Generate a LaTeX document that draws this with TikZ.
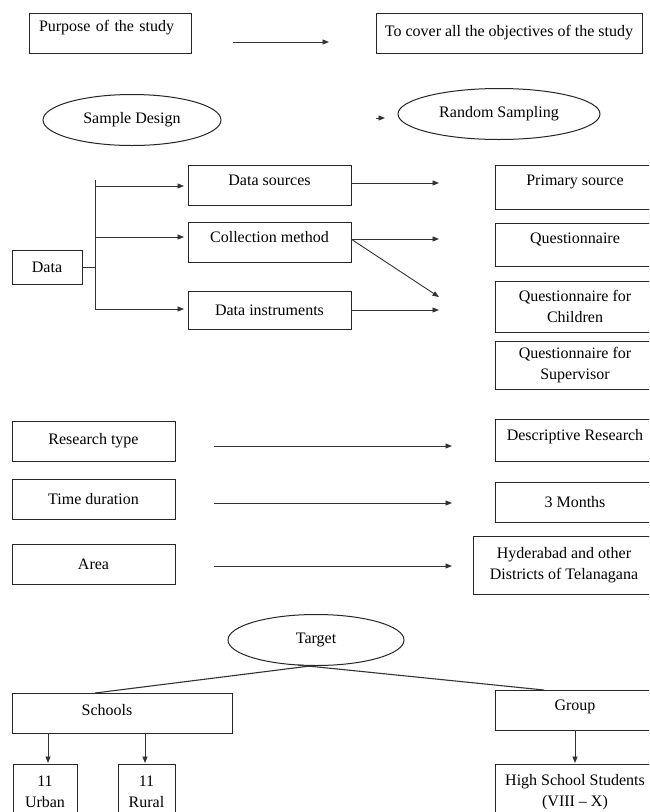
\documentclass[tikz,border=0pt]{standalone}
\usepackage{fontspec}
\setmainfont{Liberation Serif}
\usetikzlibrary{arrows.meta,shapes.geometric}
\begin{document}
\begin{tikzpicture}[x=1pt,y=-1pt,
  every node/.style={font=\fontsize{16}{20.5}\selectfont, text=black},
  box/.style={draw=black!85, line width=1pt, rectangle, inner sep=0pt, align=center},
  oval/.style={draw=black!85, line width=1pt, ellipse, inner sep=0pt},
  liftfive/.style={text height=11pt, text depth=13.5pt},
  liftthree/.style={text height=11pt, text depth=9.5pt},
  arr/.style={draw=black!80, line width=0.9pt, -{Triangle[length=6.5pt,width=5pt]}},
  ln/.style={draw=black!80, line width=0.9pt}]
\useasboundingbox (0,0) rectangle (649,812);
\clip (0,0) rectangle (649,812);
\fill[white] (0,0) rectangle (649,812);

% top row
\node[box, liftfive, minimum width=162pt, minimum height=40pt, text width=142pt, align=left] (purpose) at (110,33) {Purpose of the study};
\node[box, minimum width=266pt, minimum height=40pt] (cover) at (509,33) {To cover all the objectives of the study};
\coordinate (pa1) at (233,42);
\coordinate (pa2) at (329,42);
\draw[arr] (pa1) -- (pa2);

% sample design
\node[oval, minimum width=178pt, minimum height=51pt] (sample) at (132,120) {Sample Design};
\node[oval, minimum width=202pt, minimum height=51pt] (random) at (499,114) {Random Sampling};
\coordinate (sa1) at (376,118);
\coordinate (sa2) at (385,118);
\draw[arr] (sa1) -- (sa2);

% data
\node[box, minimum width=70pt, minimum height=34pt] (data) at (47,267) {Data};
\coordinate (j0) at (95,267);
\coordinate (jt) at (95,180);
\coordinate (jb) at (95,309);
\coordinate (j1) at (95,186);
\coordinate (j2) at (95,237);
\draw[ln] (data.east) -- (j0);
\draw[ln] (jt) -- (jb);

\node[box, liftthree, minimum width=163pt, minimum height=40pt] (ds) at (269.5,185) {Data sources};
\node[box, liftthree, minimum width=163pt, minimum height=40pt] (cm) at (269.5,242) {Collection method};
\node[box, minimum width=163pt, minimum height=38pt] (di) at (269.5,310) {Data instruments};

\coordinate (b1) at (184,186);
\coordinate (b2) at (184,237);
\coordinate (b3) at (184,309);
\draw[arr] (j1) -- (b1);
\draw[arr] (j2) -- (b2);
\draw[arr] (jb) -- (b3);

\coordinate (o1s) at (351,183);
\coordinate (o2s) at (351,239);
\coordinate (o3s) at (351,310);
\coordinate (o1) at (439,183);
\coordinate (o2) at (439,239);
\coordinate (o3) at (439,310);
\coordinate (o4) at (439,297);
\draw[arr] (o1s) -- (o1);
\draw[arr] (o2s) -- (o2);
\draw[arr] (o3s) -- (o3);
\draw[arr] (o2s) -- (o4);

\node[box, liftfive, minimum width=160pt, minimum height=44pt] (prim) at (575,187) {Primary source};
\node[box, liftfive, minimum width=160pt, minimum height=43pt] (quest) at (575,244.5) {Questionnaire};
\node[box, minimum width=160pt, minimum height=51pt] (qchild) at (575,306.5) {Questionnaire for\\Children};
\node[box, minimum width=160pt, minimum height=48pt] (qsup) at (575,365) {Questionnaire for\\Supervisor};

% research
\node[box, minimum width=163pt, minimum height=40pt] (rt) at (93.5,441) {Research type};
\node[box, minimum width=163pt, minimum height=40pt] (td) at (93.5,499) {Time duration};
\node[box, minimum width=163pt, minimum height=40pt] (ar) at (93.5,564) {Area};

\node[box, liftthree, minimum width=160pt, minimum height=42pt] (desc) at (575,440) {Descriptive Research};
\node[box, minimum width=160pt, minimum height=40pt] (mon) at (575,502) {3 Months};
\node[box, minimum width=182pt, minimum height=58pt] (hyd) at (564,565) {Hyderabad and other\\Districts of Telanagana};

\coordinate (r1s) at (214,446);
\coordinate (r1e) at (452,446);
\coordinate (r2s) at (214,503);
\coordinate (r2e) at (452,503);
\coordinate (r3s) at (214,566);
\coordinate (r3e) at (452,566);
\draw[arr] (r1s) -- (r1e);
\draw[arr] (r2s) -- (r2e);
\draw[arr] (r3s) -- (r3e);

% target
\node[oval, minimum width=176pt, minimum height=51pt] (target) at (316,640) {Target};
\node[box, minimum width=220pt, minimum height=40pt] (schools) at (122,713) {};
\node (schoolstext) at (107,710) {Schools};
\node[box, liftthree, minimum width=160pt, minimum height=40pt] (group) at (575,710) {Group};
\coordinate (tl) at (310,666);
\coordinate (tr) at (298,665);
\coordinate (sl) at (95,693);
\coordinate (gr) at (544,690);
\draw[ln, line width=1.1pt] (tl) -- (sl);
\draw[ln, line width=1.1pt] (tr) -- (gr);

\node[box, minimum width=64pt, minimum height=56pt] (urban) at (45,792) {11\\Urban};
\node[box, minimum width=57pt, minimum height=56pt] (rural) at (146.5,792) {11\\Rural};
\node[box, minimum width=160pt, minimum height=56pt] (hs) at (575,792) {High School Students\\(VIII -- X)};

\coordinate (d1s) at (48,733);
\coordinate (d1e) at (48,763);
\coordinate (d2s) at (145,733);
\coordinate (d2e) at (145,763);
\coordinate (d3s) at (575,730);
\coordinate (d3e) at (575,763);
\draw[arr] (d1s) -- (d1e);
\draw[arr] (d2s) -- (d2e);
\draw[arr] (d3s) -- (d3e);
\end{tikzpicture}
\end{document}
